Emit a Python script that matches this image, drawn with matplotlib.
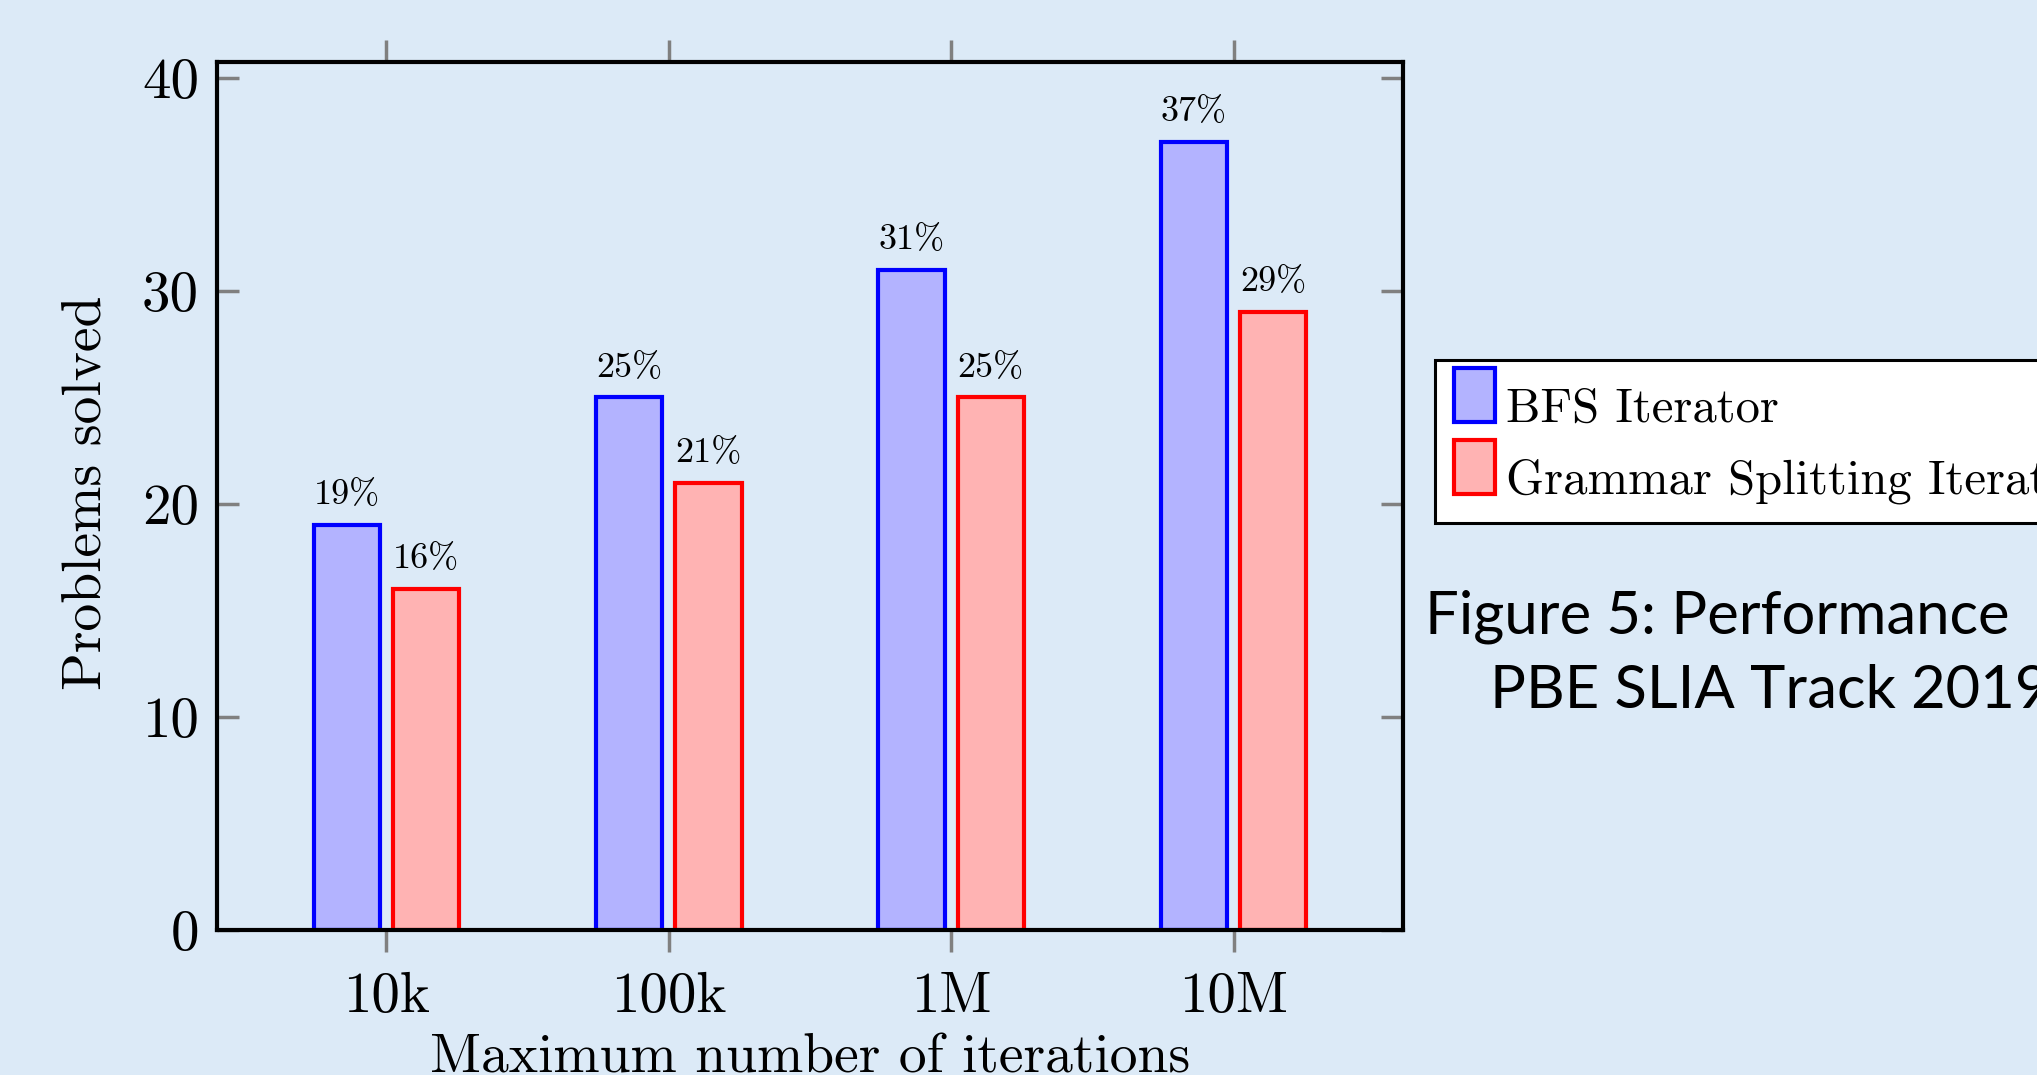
import matplotlib
matplotlib.use("Agg")
import matplotlib.pyplot as plt
from matplotlib.patches import Rectangle
from matplotlib.legend_handler import HandlerPatch
import numpy as np

categories = ["10k", "100k", "1M", "10M"]
bfs_values = [19, 25, 31, 37]
gsi_values = [16, 21, 25, 29]
series_names = ["BFS Iterator", "Grammar Splitting Iterator"]
y_ticks = [0, 10, 20, 30, 40]
caption_lines = ["Figure 5: Performance", "PBE SLIA Track 2019"]

BG = "#dceaf7"
W, H = 2037, 1075
DPI = 100

plt.rcParams["font.family"] = ["cmr10", "DejaVu Serif"]
plt.rcParams["mathtext.fontset"] = "cm"
plt.rcParams["axes.formatter.use_mathtext"] = True
plt.rcParams["axes.unicode_minus"] = False

fig = plt.figure(figsize=(W / DPI, H / DPI), dpi=DPI, facecolor=BG)
ax_l, ax_r, ax_t, ax_b = 217, 1403, 62, 930
ax = fig.add_axes([ax_l / W, 1 - ax_b / H, (ax_r - ax_l) / W, (ax_b - ax_t) / H])
ax.set_facecolor(BG)

x = np.arange(len(categories))
bw = 0.235
off = 0.14
b1 = ax.bar(x - off, bfs_values, bw, facecolor="#b3b3ff", edgecolor="#0000ff",
            linewidth=3.0, label=series_names[0], zorder=3)
b2 = ax.bar(x + off, gsi_values, bw, facecolor="#ffb3b3", edgecolor="#ff0000",
            linewidth=3.0, label=series_names[1], zorder=3)

for bars, vals in ((b1, bfs_values), (b2, gsi_values)):
    for rect, v in zip(bars, vals):
        ax.annotate(f"{v}%", (rect.get_x() + rect.get_width() / 2, v),
                    xytext=(0, 15), textcoords="offset points",
                    ha="center", va="baseline", fontsize=26)

ax.set_xlim(-0.6, 3.6)
ax.set_ylim(0, 40.75)
ax.set_xticks(x)
ax.set_xticklabels(categories)
ax.set_yticks(y_ticks)
ax.set_yticklabels([str(t) for t in y_ticks])

for s in ax.spines.values():
    s.set_linewidth(3.0)
    s.set_color("black")
    s.set_zorder(5)

ax.tick_params(axis="x", which="both", direction="out", length=16, width=2.5,
               color="#808080", top=True, bottom=True, labelsize=41, pad=14)
ax.tick_params(axis="y", which="both", direction="in", length=16, width=2.5,
               color="#808080", left=True, right=True, labelsize=41, pad=13)

ax.set_xlabel("Maximum number of iterations", fontsize=40, va="baseline", ha="center")
ax.xaxis.set_label_coords(0.5, -(1072.7 - ax_b) / (ax_b - ax_t))
ax.set_ylabel("Problems solved", fontsize=40, va="baseline", ha="center",
              rotation_mode="anchor")
ax.yaxis.set_label_coords(-(ax_l - 101) / (ax_r - ax_l), (ax_b - 493) / (ax_b - ax_t))


def baseline_patch(legend, orig_handle, xdescent, ydescent, width, height, fontsize):
    # patch sits on the text baseline, as in the pgfplots legend
    return Rectangle((-xdescent, 0), width, 1.11 * fontsize)


LEG_FS = 35
leg = fig.legend(handles=[b1.patches[0], b2.patches[0]], labels=series_names,
                 loc="upper left",
                 bbox_to_anchor=(1435 / W, 1 - 360 / H), fontsize=LEG_FS,
                 frameon=True, fancybox=False, framealpha=1, facecolor="white",
                 edgecolor="black", borderaxespad=0, borderpad=0.39,
                 handlelength=0.85, handleheight=1.3, handletextpad=0.22,
                 labelspacing=0.39,
                 handler_map={Rectangle: HandlerPatch(patch_func=baseline_patch)})
leg.get_frame().set_linewidth(2.2)

cap_family = ["Lato", "DejaVu Sans"]
fig.text(1425 / W, 1 - 633 / H, caption_lines[0], fontsize=43,
         family=cap_family, ha="left", va="baseline")
fig.text(1490 / W, 1 - 708 / H, caption_lines[1], fontsize=43,
         family=cap_family, ha="left", va="baseline")

fig.savefig("out.png", dpi=DPI, facecolor=BG)
